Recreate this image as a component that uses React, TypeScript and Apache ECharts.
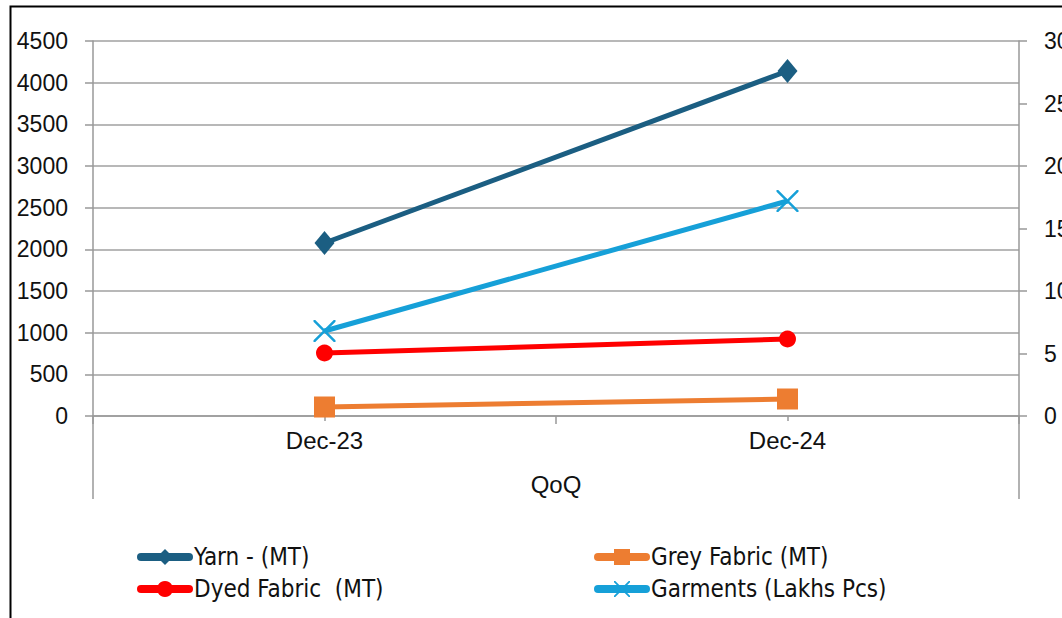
import React, { useEffect, useRef } from "react";
import * as echarts from "echarts";

const categories = ["Dec-23", "Dec-24"];
const yarn = [2076, 4140];
const greyFabric = [108, 204];
const dyedFabric = [756, 924];
const garments = [6.8, 17.2];
const leftTicks = { min: 0, max: 4500, interval: 500 };
const rightTicks = { min: 0, max: 30, interval: 5 };

const xSymbol =
  "path://M0,0 L1.6,0 L10,8.4 L18.4,0 L20,0 L20,1.6 L11.6,10 L20,18.4 L20,20 L18.4,20 L10,11.6 L1.6,20 L0,20 L0,18.4 L8.4,10 L0,1.6 Z";

export default function App() {
  const ref = useRef<HTMLDivElement>(null);
  useEffect(() => {
    document.body.style.margin = "0";
    const chart = echarts.init(ref.current!, null, { renderer: "svg" });
    const yFont = { fontFamily: "Liberation Sans, Arial, sans-serif", fontSize: 23, color: "#111" };
    const xFont = { fontFamily: "Liberation Sans, Arial, sans-serif", fontSize: 24, color: "#111" };
    const legendFont = { fontFamily: "DejaVu Sans Condensed, Liberation Sans, sans-serif", fontSize: 24, color: "#111" };
    const gridLeft = 93, gridRight = 1019, gridTop = 41, gridBottom = 416;
    chart.setOption({
      animation: false,
      backgroundColor: "#fff",
      grid: {
        left: gridLeft,
        right: 1062 - gridRight,
        top: gridTop,
        bottom: 618 - gridBottom,
        containLabel: false,
        outerBoundsMode: "none",
      },
      xAxis: [
        {
          type: "category",
          data: categories,
          boundaryGap: true,
          axisLine: { show: true, lineStyle: { color: "#999", width: 1.5 } },
          axisTick: { show: true, alignWithLabel: true, length: 5, lineStyle: { color: "#999", width: 1.5 } },
          axisLabel: { ...xFont, margin: 12 },
          name: "QoQ",
          nameLocation: "middle",
          nameGap: 56,
          nameTextStyle: xFont,
        },
        {
          type: "category",
          data: categories,
          position: "bottom",
          boundaryGap: true,
          axisLine: { show: false },
          axisLabel: { show: false },
          axisTick: { show: true, interval: 0, alignWithLabel: false, length: 8, lineStyle: { color: "#999", width: 1.5 } },
        },
      ],
      yAxis: [
        {
          type: "value",
          ...leftTicks,
          axisLine: { show: true, lineStyle: { color: "#999", width: 1.5 } },
          axisTick: { show: true, length: 8, lineStyle: { color: "#999", width: 1.5 } },
          axisLabel: { ...yFont, margin: 25, formatter: (v: number) => String(v) },
          splitLine: { show: true, lineStyle: { color: "#a0a0a0", width: 1.5 } },
        },
        {
          type: "value",
          position: "right",
          ...rightTicks,
          axisLine: { show: true, lineStyle: { color: "#999", width: 1.5 } },
          axisTick: { show: true, length: 8, lineStyle: { color: "#999", width: 1.5 } },
          axisLabel: { ...yFont, margin: 25, formatter: (v: number) => String(v) },
          splitLine: { show: false },
        },
      ],
      legend: [
        {
          orient: "vertical",
          left: 137,
          top: 545,
          padding: 0,
          itemWidth: 48,
          itemHeight: 20,
          itemGap: 8,
          textStyle: legendFont,
          lineStyle: { width: 8, cap: "round" },
          data: ["Yarn - (MT)", "Dyed Fabric  (MT)"],
        },
        {
          orient: "vertical",
          left: 594,
          top: 545,
          padding: 0,
          itemWidth: 48,
          itemHeight: 20,
          itemGap: 8,
          textStyle: legendFont,
          lineStyle: { width: 8, cap: "round" },
          data: ["Grey Fabric (MT)", "Garments (Lakhs Pcs)"],
        },
      ],
      series: [
        {
          name: "Yarn - (MT)",
          type: "line",
          data: yarn,
          yAxisIndex: 0,
          symbol: "diamond",
          symbolSize: [20, 24],
          lineStyle: { width: 5, color: "#1b5e82" },
          itemStyle: { color: "#1b5e82" },
        },
        {
          name: "Grey Fabric (MT)",
          type: "line",
          data: greyFabric,
          yAxisIndex: 0,
          symbol: "rect",
          symbolSize: 21,
          lineStyle: { width: 5, color: "#ed7d31" },
          itemStyle: { color: "#ed7d31" },
        },
        {
          name: "Dyed Fabric  (MT)",
          type: "line",
          data: dyedFabric,
          yAxisIndex: 0,
          symbol: "circle",
          symbolSize: 17,
          lineStyle: { width: 5, color: "#ff0000" },
          itemStyle: { color: "#ff0000" },
        },
        {
          name: "Garments (Lakhs Pcs)",
          type: "line",
          data: garments,
          yAxisIndex: 1,
          symbol: xSymbol,
          symbolSize: 22,
          lineStyle: { width: 5, color: "#16a0d8" },
          itemStyle: { color: "#16a0d8" },
        },
      ],
      graphic: [
        {
          type: "rect",
          shape: { x: 10.5, y: 6.5, width: 1200, height: 800 },
          style: { fill: "none", stroke: "#000", lineWidth: 2 },
          silent: true,
        },
        {
          type: "line",
          shape: { x1: gridLeft, y1: gridBottom, x2: gridLeft, y2: 499 },
          style: { stroke: "#999", lineWidth: 1.5 },
          silent: true,
        },
        {
          type: "line",
          shape: { x1: gridRight, y1: gridBottom, x2: gridRight, y2: 499 },
          style: { stroke: "#999", lineWidth: 1.5 },
          silent: true,
        },
      ],
    });
    return () => chart.dispose();
  }, []);
  return <div ref={ref} style={{ width: 1062, height: 618 }} />;
}
